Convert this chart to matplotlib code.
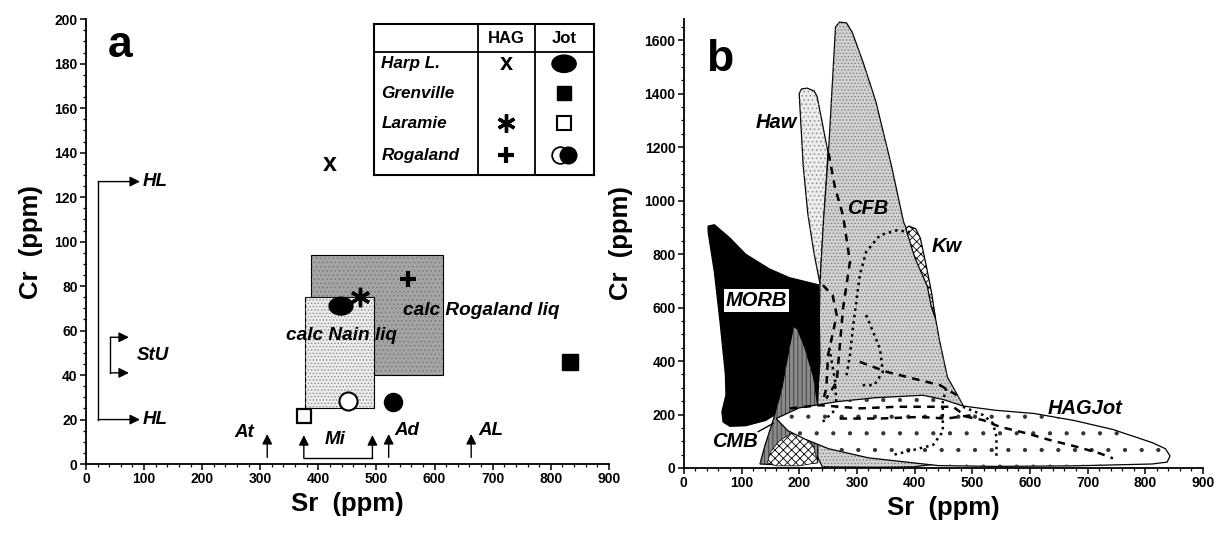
import numpy as np
import matplotlib
matplotlib.use('Agg')
import matplotlib.pyplot as plt
from matplotlib.patches import Polygon, Rectangle, Ellipse
from matplotlib.ticker import MultipleLocator

plt.rcParams['font.family'] = ['Liberation Sans', 'DejaVu Sans']
plt.rcParams['font.weight'] = 'bold'
plt.rcParams['hatch.linewidth'] = 0.6

# ---------- panel a data (Sr, Cr in ppm) ----------
harp_hag = [420, 135]
laramie_hag = [471, 75]
rogaland_hag = [555, 83]

harp_jot = [439, 71]
grenville_jot = [833, 46]
laramie_jot = [375, 21.5]
rogaland_jot_open = [451, 28.5]
rogaland_jot_fill = [529, 28]

# calculated liquids: sr_min, sr_max, cr_min, cr_max
rogaland_liq = [388, 615, 40, 94]
nain_liq = [377, 495, 25, 75]

# reference suites on the axes
hl_cr = [20, 127]
stu_cr = [41, 57]
at_sr = 312
mi_sr = [375, 493]
ad_sr = 521
al_sr = 663

# ---------- panel b fields (Sr, Cr) ----------
haw_field = [(200, 1400), (204, 1418), (214, 1421), (226, 1410), (231, 1390),
             (250, 1180), (242, 900), (236, 690), (226, 800), (215, 950),
             (207, 1130), (200, 1400)]
cfb_field = [(263, 1650), (270, 1668), (282, 1665), (292, 1630), (312, 1510),
             (333, 1370), (360, 1130), (381, 920), (405, 800), (422, 700),
             (433, 600), (443, 480), (457, 340), (470, 290), (484, 235),
             (460, 20), (400, 5), (330, 3), (240, 5), (228, 60), (232, 230),
             (236, 690), (242, 922), (251, 1190), (263, 1650)]
morb_field = [(42, 905), (53, 910), (80, 860), (107, 800), (148, 745),
              (183, 712), (234, 685), (236, 400), (231, 235), (166, 210),
              (142, 178), (107, 158), (80, 156), (68, 172), (66, 210),
              (73, 274), (72, 350), (63, 541), (53, 732), (42, 884)]
cmb_field = [(132, 15), (140, 80), (155, 180), (170, 300), (180, 420),
             (190, 530), (197, 520), (210, 450), (225, 340), (233, 220),
             (232, 20), (180, 10)]
check_field = [(145, 20), (150, 60), (165, 100), (190, 135), (210, 125),
               (225, 80), (232, 20), (200, 8), (160, 8)]
kw_field = [(385, 895), (390, 905), (402, 895), (410, 860), (420, 760),
            (430, 650), (436, 560), (429, 604), (422, 681), (410, 740),
            (400, 790), (390, 860), (385, 895)]
hagjot_field = [(160, 185), (200, 225), (265, 248), (333, 263), (415, 272),
                (450, 256), (484, 232), (540, 216), (607, 204), (676, 178),
                (744, 144), (812, 95), (835, 72), (843, 45), (838, 22),
                (812, 15), (676, 8), (539, 6), (441, 9), (374, 25), (320, 38),
                (251, 72), (210, 108), (180, 140), (160, 185)]

dashed_lines = [
    [(241, 684), (258, 646), (265, 572), (250, 422), (247, 298), (241, 248)],
    [(251, 1177), (262, 1050), (276, 945), (288, 771), (276, 597), (270, 447),
     (265, 322), (247, 260)],
    [(305, 397), (351, 360), (397, 335), (444, 310), (473, 273)],
    [(184, 223), (236, 235), (305, 223), (369, 229), (421, 229), (467, 229),
     (490, 192), (519, 179), (548, 154), (594, 130), (634, 105), (680, 80),
     (721, 55), (744, 36)],
    [(270, 185), (340, 185), (409, 191), (455, 185), (501, 198)],
]
dotted_lines = [
    [(282, 347), (288, 422), (293, 522), (299, 622), (305, 721), (316, 808),
     (340, 871), (369, 889), (392, 883)],
    [(316, 572), (340, 447), (345, 360), (330, 310), (305, 310)],
    [(455, 298), (449, 248), (449, 136), (432, 86), (397, 67), (363, 49)],
    [(484, 229), (519, 198), (536, 167), (542, 117), (542, 42)],
    [(241, 173), (265, 223), (262, 330), (252, 450)],
]


def field(ax, pts, face, hatch=None, hcolor='black', lw=0.9, z=1):
    ax.add_patch(Polygon(pts, closed=True, facecolor=face, edgecolor='black',
                         lw=lw, zorder=z))
    if hatch:
        ax.add_patch(Polygon(pts, closed=True, facecolor='none', edgecolor=hcolor,
                             hatch=hatch, lw=0, zorder=z))


def style_axes(ax, ymax, ymaj, ymin):
    ax.set_xlim(0, 900)
    ax.set_ylim(0, ymax)
    ax.spines['top'].set_visible(False)
    ax.spines['right'].set_visible(False)
    for s in ('left', 'bottom'):
        ax.spines[s].set_linewidth(1.3)
    ax.xaxis.set_major_locator(MultipleLocator(100))
    ax.xaxis.set_minor_locator(MultipleLocator(20))
    ax.yaxis.set_major_locator(MultipleLocator(ymaj))
    ax.yaxis.set_minor_locator(MultipleLocator(ymin))
    ax.tick_params(which='major', direction='out', length=4, width=1.1,
                   labelsize=10, pad=2)
    ax.tick_params(which='minor', direction='out', length=2.5, width=0.9)
    ax.set_xlabel('Sr  (ppm)', fontsize=18.5, fontweight='bold', labelpad=4)
    ax.set_ylabel('Cr  (ppm)', fontsize=18.5, fontweight='bold', labelpad=8)


fig = plt.figure(figsize=(12.19, 5.34), dpi=100)
axa = fig.add_axes([0.0705, 0.131, 0.429, 0.833])
axb = fig.add_axes([0.561, 0.1236, 0.4258, 0.841])

# ================= panel a =================
style_axes(axa, 200, 20, 5)
axa.yaxis.set_ticks(np.arange(0, 201, 20))

r = rogaland_liq
axa.add_patch(Rectangle((r[0], r[2]), r[1] - r[0], r[3] - r[2], facecolor='#a4a4a4',
                        edgecolor='black', lw=0.8, zorder=1))
axa.add_patch(Rectangle((r[0], r[2]), r[1] - r[0], r[3] - r[2], facecolor='none',
                        edgecolor='#7a7a7a', hatch='....', lw=0, zorder=1))
n = nain_liq
axa.add_patch(Rectangle((n[0], n[2]), n[1] - n[0], n[3] - n[2], facecolor='#ececec',
                        edgecolor='black', lw=0.8, zorder=2))
axa.add_patch(Rectangle((n[0], n[2]), n[1] - n[0], n[3] - n[2], facecolor='none',
                        edgecolor='#8c8c8c', hatch='.....', lw=0, zorder=2))
axa.text(681, 69, 'calc Rogaland liq', fontsize=13.7, style='italic', ha='center',
         va='center', zorder=5)
axa.text(439, 58, 'calc Nain liq', fontsize=13.7, style='italic', ha='center',
         va='center', zorder=5)

# HAG symbols
axa.text(harp_hag[0], harp_hag[1], 'x', fontsize=18, ha='center', va='center', zorder=6)
axa.plot(*laramie_hag, marker=(6, 2, 0), ms=14, mew=2.4, color='black', zorder=6)
axa.plot(*rogaland_hag, marker='+', ms=11, mew=3, color='black', zorder=6)
# Jot symbols
axa.add_patch(Ellipse(harp_jot, 41, 8, color='black', zorder=6))
axa.plot(*grenville_jot, marker='s', ms=11.5, color='black', zorder=6)
axa.plot(*laramie_jot, marker='s', ms=10.5, mfc='white', mec='black', mew=1.6, zorder=6)
axa.plot(*rogaland_jot_open, marker='o', ms=13, mfc='white', mec='black', mew=1.5, zorder=6)
axa.plot(*rogaland_jot_fill, marker='o', ms=13, color='black', zorder=6)

# HL / StU brackets
arr = dict(arrowstyle='-|>', color='black', lw=1.0, mutation_scale=15,
           shrinkA=0, shrinkB=0)
axa.plot([21, 21], hl_cr, color='black', lw=1.0)
for c in hl_cr:
    axa.annotate('', xy=(93, c), xytext=(21, c), arrowprops=arr)
    axa.text(97, c, 'HL', fontsize=13.5, style='italic', ha='left', va='center')
axa.plot([42, 42], stu_cr, color='black', lw=1.0)
for c in stu_cr:
    axa.annotate('', xy=(74, c), xytext=(42, c), arrowprops=arr)
axa.text(88, np.mean(stu_cr), 'StU', fontsize=13.5, style='italic', ha='left', va='center')

# bottom arrows
for s in [at_sr, ad_sr, al_sr]:
    axa.annotate('', xy=(s, 13.5), xytext=(s, 3), arrowprops=arr)
for s in mi_sr:
    axa.annotate('', xy=(s, 13), xytext=(s, 2.6), arrowprops=arr)
axa.plot(mi_sr, [2.6, 2.6], color='black', lw=1.0)
axa.text(at_sr - 22, 14, 'At', fontsize=13.5, style='italic', ha='right', va='center')
axa.text(np.mean(mi_sr) - 5, 11, 'Mi', fontsize=13.5, style='italic', ha='center', va='center')
axa.text(ad_sr + 9, 15, 'Ad', fontsize=13.5, style='italic', ha='left', va='center')
axa.text(al_sr + 12, 15, 'AL', fontsize=13.5, style='italic', ha='left', va='center')

axa.text(59, 188, 'a', fontsize=32, ha='center', va='center')

# legend table
leg = axa.inset_axes([495, 130, 379, 68], transform=axa.transData)
leg.set_xlim(0, 1)
leg.set_ylim(0, 1)
leg.set_xticks([])
leg.set_yticks([])
for s in leg.spines.values():
    s.set_linewidth(1.5)
leg.axvline(0.475, color='black', lw=1.3)
leg.axvline(0.731, color='black', lw=1.3)
leg.axhline(0.81, color='black', lw=1.3)
leg.text(0.603, 0.905, 'HAG', fontsize=12, ha='center', va='center')
leg.text(0.865, 0.905, 'Jot', fontsize=12, ha='center', va='center')
rows = ['Harp L.', 'Grenville', 'Laramie', 'Rogaland']
row_y = [0.735, 0.54, 0.34, 0.13]
for name, y in zip(rows, row_y):
    leg.text(0.035, y, name, fontsize=12.3, style='italic', ha='left', va='center')
leg.text(0.603, row_y[0], 'x', fontsize=17, ha='center', va='center')
leg.plot(0.603, row_y[2], marker=(6, 2, 0), ms=13, mew=2.4, color='black')
leg.plot(0.603, row_y[3], marker='+', ms=11, mew=3, color='black')
leg.add_patch(Ellipse((0.865, row_y[0]), 0.11, 0.115, color='black'))
leg.plot(0.865, row_y[1], marker='s', ms=10, color='black')
leg.plot(0.865, row_y[2], marker='s', ms=10, mfc='white', mec='black', mew=1.5)
leg.plot(0.845, row_y[3], marker='o', ms=12, mfc='white', mec='black', mew=1.3)
leg.plot(0.885, row_y[3], marker='o', ms=12, color='black')

# ================= panel b =================
style_axes(axb, 1680, 200, 50)
axb.yaxis.set_ticks(np.arange(0, 1601, 200))
axb.yaxis.set_minor_locator(MultipleLocator(50))

field(axb, haw_field, '#ececec', hatch='....', hcolor='#909090', z=1)
field(axb, cfb_field, '#d2d2d2', hatch='.....', hcolor='#808080', z=2)
field(axb, morb_field, 'black', z=3)
field(axb, cmb_field, '#8a8a8a', hatch='||||', hcolor='#3a3a3a', z=4)
field(axb, check_field, 'white', hatch='xxxx', hcolor='black', lw=0.5, z=5)
field(axb, hagjot_field, 'white', hatch='.', hcolor='#333333', z=6)
field(axb, kw_field, 'white', hatch='xxxx', hcolor='black', z=6)

for ln in dashed_lines:
    xs, ys = zip(*ln)
    axb.plot(xs, ys, color='black', lw=1.8, ls=(0, (3, 2.5)), zorder=7)
for ln in dotted_lines:
    xs, ys = zip(*ln)
    axb.plot(xs, ys, color='black', lw=1.8, ls=(0, (1, 1.6)), zorder=7)

axb.plot([129, 155], [136, 167], color='black', lw=1.0, zorder=8)

lab = dict(fontsize=14.5, style='italic', ha='center', va='center', zorder=9)
axb.text(161, 1294, 'Haw', **lab)
axb.text(319, 970, 'CFB', **lab)
axb.text(455, 827, 'Kw', **lab)
axb.text(88, 98, 'CMB', **lab)
axb.text(695, 223, 'HAGJot', **lab)
axb.text(126, 628, 'MORB', bbox=dict(facecolor='white', edgecolor='none', pad=1.5), **lab)
axb.text(62, 1530, 'b', fontsize=32, ha='center', va='center')

fig.savefig('out.png', dpi=100)
